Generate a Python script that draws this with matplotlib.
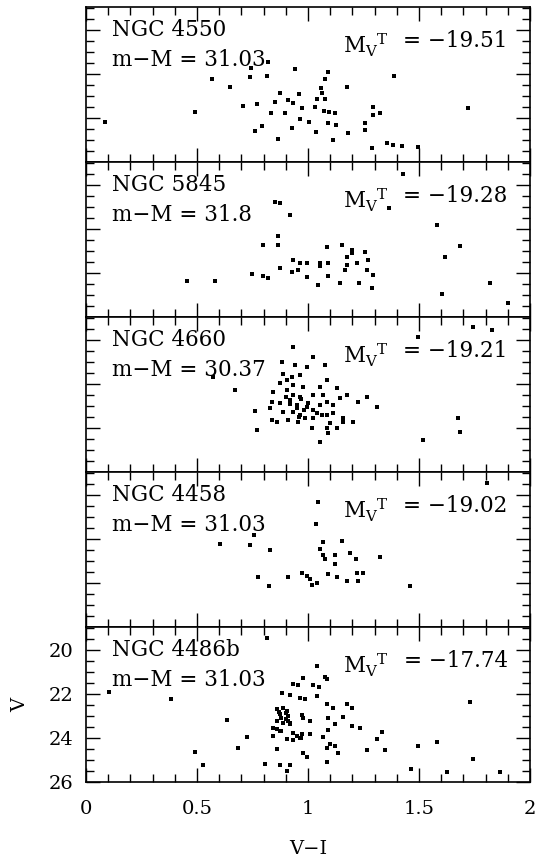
import matplotlib
matplotlib.use("Agg")
import matplotlib.pyplot as plt
from matplotlib.ticker import MultipleLocator

plt.rcParams["font.family"] = ["DejaVu Serif"]
plt.rcParams["mathtext.fontset"] = "dejavuserif"

galaxies = ["NGC 4550", "NGC 5845", "NGC 4660", "NGC 4458", "NGC 4486b"]
dist_mod = ["31.03", "31.8", "30.37", "31.03", "31.03"]
mv_total = ["\u221219.51", "\u221219.28", "\u221219.21", "\u221219.02", "\u221217.74"]

ngc4550_vi = [0.086, 0.491, 0.569, 0.649, 0.742, 0.739, 0.814, 0.821, 0.941, 1.092, 1.077, 1.057, 1.065,
              1.077, 1.039, 1.032, 1.177, 1.387, 1.722, 0.709, 0.769, 0.851, 0.874, 0.911, 0.934, 0.960,
              0.972, 0.832, 0.896, 0.964, 1.006, 1.074, 1.096, 1.122, 1.092, 1.126, 0.761, 0.791, 0.926,
              1.036, 1.179, 1.114, 0.866, 1.257, 1.257, 1.294, 1.294, 1.324, 1.287, 1.354, 1.384, 1.422, 1.497]
ngc4550_v = [24.17, 23.71, 22.23, 22.60, 21.74, 22.12, 22.09, 21.44, 21.77, 21.89, 22.23, 22.65, 22.88,
             23.15, 23.15, 23.51, 22.60, 22.09, 23.53, 23.45, 23.36, 23.26, 22.88, 23.18, 23.30, 22.92,
             23.56, 23.76, 23.76, 24.05, 24.17, 23.68, 23.71, 23.79, 24.24, 24.32, 24.58, 24.35, 24.47,
             24.62, 24.70, 25.00, 24.97, 24.24, 24.55, 23.48, 23.86, 23.76, 25.35, 25.15, 25.23, 25.27, 25.30]

ngc5845_vi = [1.426, 0.874, 0.851, 0.919, 1.366, 1.580, 0.866, 0.866, 0.796, 1.084, 1.152, 1.197, 1.197,
              1.257, 1.174, 1.685, 1.617, 0.934, 0.964, 0.994, 1.054, 1.092, 1.174, 1.219, 1.272, 0.874,
              0.926, 0.956, 1.054, 1.167, 1.264, 1.294, 0.746, 0.796, 0.821, 0.994, 1.092, 0.453, 0.581,
              1.047, 1.144, 1.231, 1.287, 1.820, 1.602, 1.902]
ngc5845_v = [19.50, 20.80, 20.76, 21.36, 21.06, 21.82, 22.32, 22.73, 22.73, 22.80, 22.73, 22.95, 23.11,
             23.03, 23.26, 22.77, 23.26, 23.41, 23.56, 23.56, 23.56, 23.56, 23.64, 23.56, 23.41, 23.76,
             23.94, 23.86, 23.68, 23.86, 23.86, 24.09, 24.05, 24.14, 24.24, 24.20, 24.14, 24.35, 24.35,
             24.55, 24.44, 24.47, 24.70, 24.44, 24.95, 25.38]

ngc4660_vi = [1.742, 1.827, 1.497, 0.934, 1.024, 1.077, 0.881, 0.941, 0.994, 0.571, 0.671, 0.761, 0.769,
              1.054, 1.520, 1.677, 1.685, 0.889, 0.926, 0.964, 0.904, 0.874, 0.934, 0.979, 1.054, 1.084,
              0.844, 0.904, 0.934, 0.964, 1.024, 1.069, 1.129, 1.174, 0.836, 0.874, 0.919, 0.949, 0.994,
              1.054, 1.084, 1.114, 1.144, 1.227, 1.264, 1.309, 0.829, 0.889, 0.934, 0.964, 1.024, 1.061,
              1.114, 1.159, 0.836, 0.859, 0.911, 0.956, 0.986, 1.024, 1.084, 1.099, 1.159, 1.204, 1.016,
              1.084, 1.092, 1.129, 0.900, 0.920, 0.950, 0.970, 1.000, 1.040, 0.980, 0.960]
ngc4660_v = [19.39, 19.55, 19.85, 20.33, 20.79, 21.14, 20.98, 21.14, 21.21, 21.67, 22.27, 23.23, 24.09,
             24.62, 24.55, 23.56, 24.17, 21.52, 21.67, 21.59, 21.82, 21.97, 22.05, 22.12, 22.12, 21.82,
             22.35, 22.27, 22.50, 22.58, 22.50, 22.50, 22.20, 22.50, 22.80, 22.88, 22.73, 22.95, 23.03,
             22.95, 22.80, 22.95, 22.65, 22.83, 22.58, 23.03, 23.11, 23.26, 23.26, 23.41, 23.18, 23.41,
             23.33, 23.56, 23.64, 23.71, 23.64, 23.71, 23.56, 23.56, 23.41, 23.79, 23.71, 23.71, 24.02,
             24.02, 24.24, 24.02, 22.60, 22.90, 23.10, 22.70, 22.85, 23.30, 23.20, 23.50]

ngc4458_vi = [1.805, 1.047, 1.036, 0.757, 0.604, 0.739, 0.829, 1.069, 1.152, 1.054, 1.066, 1.077, 1.122,
              1.189, 1.216, 1.324, 1.122, 0.776, 0.826, 0.911, 0.971, 0.994, 1.009, 1.016, 1.039, 1.092,
              1.129, 1.174, 1.219, 1.249, 1.227, 1.460]
ngc4458_v = [19.47, 20.30, 21.32, 21.82, 22.23, 22.27, 22.50, 22.12, 22.08, 22.47, 22.73, 22.92, 22.73,
             22.65, 22.92, 22.80, 23.14, 23.71, 24.14, 23.71, 23.56, 23.68, 23.83, 24.09, 24.02, 23.59,
             23.71, 23.91, 23.56, 23.53, 23.91, 24.12]

ngc4486b_vi = [0.814, 0.105, 0.381, 0.637, 0.491, 0.526, 0.686, 0.724, 1.039, 0.976, 0.934, 0.956, 1.024,
               1.051, 1.076, 1.084, 0.881, 0.919, 0.964, 0.986, 1.039, 1.084, 1.114, 1.174, 1.197, 0.859,
               0.889, 0.904, 0.874, 0.911, 0.911, 0.859, 0.889, 0.919, 0.971, 1.009, 0.979, 1.092, 1.122,
               1.159, 1.197, 1.234, 0.844, 0.874, 0.934, 0.971, 1.009, 0.844, 0.904, 0.934, 0.964, 1.092,
               1.069, 1.099, 1.122, 1.084, 1.137, 1.332, 1.309, 1.347, 1.267, 1.497, 1.580, 1.730, 1.742,
               0.859, 0.979, 0.994, 1.087, 0.806, 0.874, 0.919, 0.904, 1.463, 1.625, 1.865, 0.870, 0.900,
               0.880, 0.900, 0.920, 0.860, 0.880, 0.950, 0.970]
ngc4486b_v = [19.44, 21.91, 22.21, 23.20, 24.64, 25.23, 24.44, 23.95, 20.73, 21.29, 21.53, 21.59, 21.59,
              21.68, 21.23, 21.33, 21.94, 22.05, 22.17, 22.24, 22.09, 22.47, 22.65, 22.47, 22.65, 22.70,
              22.65, 22.77, 22.92, 23.00, 23.23, 23.23, 23.30, 23.38, 22.95, 23.23, 23.08, 23.11, 23.38,
              23.04, 23.45, 23.56, 23.53, 23.68, 23.76, 23.80, 23.83, 23.91, 24.06, 24.11, 23.98, 23.65,
              23.95, 24.29, 24.36, 24.44, 24.67, 23.71, 24.06, 24.56, 24.55, 24.38, 24.18, 22.36, 24.94,
              24.52, 24.67, 24.86, 25.11, 25.17, 25.23, 25.23, 25.50, 25.42, 25.53, 25.53, 22.80, 22.85,
              23.10, 23.15, 23.30, 23.60, 23.70, 23.90, 24.00]

series_vi = [ngc4550_vi, ngc5845_vi, ngc4660_vi, ngc4458_vi, ngc4486b_vi]
series_v = [ngc4550_v, ngc5845_v, ngc4660_v, ngc4458_v, ngc4486b_v]

fig, axes = plt.subplots(5, 1, sharex=True, figsize=(5.4, 8.65), dpi=100)
fig.subplots_adjust(left=86 / 540, right=530 / 540, top=1 - 7 / 865, bottom=1 - 782 / 865, hspace=0)

for i, ax in enumerate(axes):
    ax.plot(series_vi[i], series_v[i], linestyle="none", marker="s", markersize=2.8,
            color="black", markeredgewidth=0)
    ax.set_xlim(0, 2)
    ax.set_ylim(26, 18.95)
    ax.xaxis.set_major_locator(MultipleLocator(0.5))
    ax.xaxis.set_minor_locator(MultipleLocator(0.1))
    ax.yaxis.set_major_locator(MultipleLocator(2))
    ax.yaxis.set_minor_locator(MultipleLocator(0.5))
    ax.tick_params(which="both", direction="in", top=True, right=True, width=1.0, labelsize=14)
    ax.tick_params(which="major", length=10)
    ax.tick_params(which="minor", length=5.5)
    ax.tick_params(axis="x", pad=13)
    ax.tick_params(axis="y", pad=9)
    for s in ax.spines.values():
        s.set_linewidth(1.2)
    if i < 4:
        ax.tick_params(labelbottom=False, labelleft=False)
    tr = ax.get_xaxis_transform()
    ax.text(0.117, 0.81, galaxies[i], transform=tr, fontsize=15.5, ha="left", va="baseline")
    ax.text(0.117, 0.62, "m\u2212M = " + dist_mod[i], transform=tr, fontsize=15.5,
            ha="left", va="baseline")
    ax.text(1.158, 0.70, r"$\mathrm{M_V}^{\mathrm{T}}$", transform=tr, fontsize=15.5,
            ha="left", va="baseline")
    ax.text(1.90, 0.745, "= " + mv_total[i], transform=tr, fontsize=15.5, ha="right",
            va="baseline")

axes[-1].set_xticks([0, 0.5, 1, 1.5, 2])
axes[-1].set_xticklabels(["0", "0.5", "1", "1.5", "2"])
axes[-1].set_xlabel("V\u2212I", fontsize=14, labelpad=16)
axes[-1].set_ylabel("V", fontsize=14, labelpad=14)

fig.savefig("out.png", dpi=100)
